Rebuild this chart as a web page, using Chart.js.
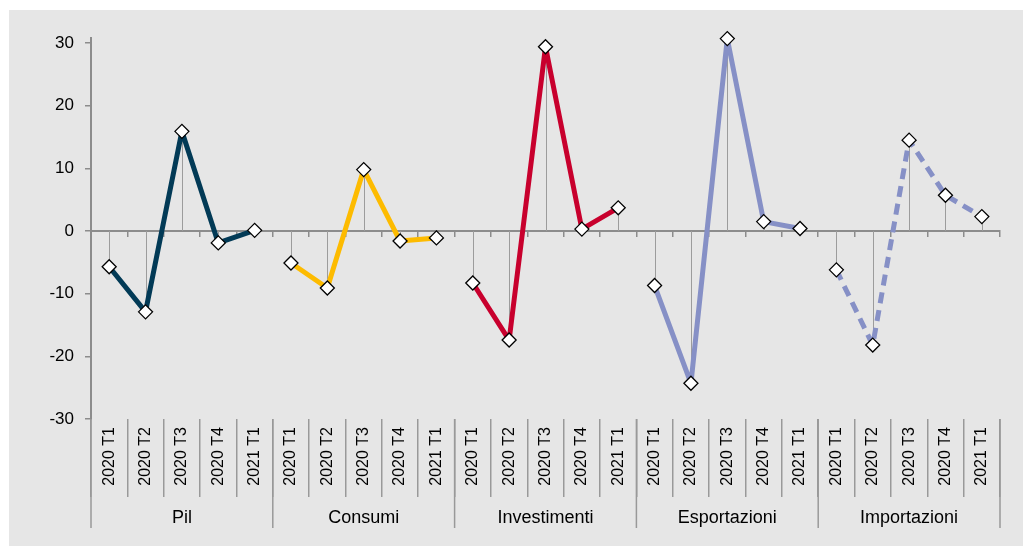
<!DOCTYPE html>
<html lang="it">
<head>
<meta charset="UTF-8">
<title>Variazioni trimestrali</title>
<style>
  body { margin: 0; background: #fff; width: 1023px; height: 546px; overflow: hidden; }
  .chart-box {
    position: absolute; left: 9px; top: 10px;
    width: 1014px; height: 536px; background: #e6e6e6;
  }
</style>
</head>
<body>
<div class="chart-box"><canvas id="chart" width="1014" height="536"></canvas></div>
<script src="https://cdn.jsdelivr.net/npm/chart.js"></script>
<script>
// quarters and groups
const quarters = ['2020 T1', '2020 T2', '2020 T3', '2020 T4', '2021 T1'];
const groups = ['Pil', 'Consumi', 'Investimenti', 'Esportazioni', 'Importazioni'];

// values per group
const pil = [-5.7, -12.9, 15.9, -1.9, 0.1];
const consumi = [-5.1, -9.1, 9.8, -1.6, -1.1];
const investimenti = [-8.3, -17.4, 29.4, 0.3, 3.7];
const esportazioni = [-8.7, -24.3, 30.7, 1.5, 0.4];
const importazioni = [-6.2, -18.2, 14.5, 5.7, 2.3];

const yTicks = [-30, -20, -10, 0, 10, 20, 30];

const labels = [];
groups.forEach(() => quarters.forEach(q => labels.push(q)));

// put a group's 5 values in its slot of the 25 categories
function place(values, g) {
  const out = labels.map(() => null);
  values.forEach((v, i) => { out[g * quarters.length + i] = v; });
  return out;
}

function series(values, g, color, dash) {
  return {
    label: groups[g],
    data: place(values, g),
    borderColor: color,
    borderWidth: 5,
    borderDash: dash || [],
    borderJoinStyle: 'round',
    tension: 0,
    spanGaps: false,
    clip: false,
    pointStyle: 'rectRot',
    pointRadius: 7,
    pointBackgroundColor: '#fff',
    pointBorderColor: '#000',
    pointBorderWidth: 1.3
  };
}

// thin lines from each point down/up to zero
const dropLines = {
  id: 'dropLines',
  beforeDatasetsDraw(chart) {
    const ctx = chart.ctx;
    const zero = chart.scales.y.getPixelForValue(0);
    ctx.save();
    ctx.strokeStyle = '#9c9c9c';
    ctx.lineWidth = 1;
    chart.data.datasets.forEach((ds, i) => {
      chart.getDatasetMeta(i).data.forEach((pt, j) => {
        if (ds.data[j] === null) return;
        const x = Math.round(pt.x) + 0.5;
        ctx.beginPath();
        ctx.moveTo(x, pt.y);
        ctx.lineTo(x, zero);
        ctx.stroke();
      });
    });
    ctx.restore();
  }
};

// group separators and names under the quarter labels
const groupLabels = {
  id: 'groupLabels',
  beforeDatasetsDraw(chart) {
    // y axis line runs a little above the top tick
    const ctx = chart.ctx;
    const area = chart.chartArea;
    ctx.save();
    ctx.strokeStyle = '#8c8c8c';
    ctx.lineWidth = 2;
    ctx.beginPath();
    ctx.moveTo(area.left, area.top - 6);
    ctx.lineTo(area.left, area.top);
    ctx.stroke();
    ctx.restore();
  },
  afterDraw(chart) {
    const ctx = chart.ctx;
    const x = chart.scales.x;
    const area = chart.chartArea;
    const step = x.getPixelForValue(1) - x.getPixelForValue(0);
    ctx.save();
    ctx.strokeStyle = '#999';
    ctx.lineWidth = 1.5;
    for (let g = 0; g <= groups.length; g++) {
      const px = x.getPixelForValue(g * quarters.length) - step / 2;
      ctx.beginPath();
      ctx.moveTo(px, area.bottom);
      ctx.lineTo(px, area.bottom + 109);
      ctx.stroke();
    }
    ctx.fillStyle = '#000';
    ctx.font = '18px Arial, "Liberation Sans", sans-serif';
    ctx.textAlign = 'center';
    ctx.textBaseline = 'middle';
    groups.forEach((name, g) => {
      const a = x.getPixelForValue(g * quarters.length);
      const b = x.getPixelForValue(g * quarters.length + quarters.length - 1);
      ctx.fillText(name, (a + b) / 2, area.bottom + 99);
    });
    ctx.restore();
  }
};

const ctx = document.getElementById('chart').getContext('2d');
new Chart(ctx, {
  type: 'line',
  data: {
    labels: labels,
    datasets: [
      series(pil, 0, '#023a56'),
      series(consumi, 1, '#fdbb00'),
      series(investimenti, 2, '#c8002d'),
      series(esportazioni, 3, '#8690c6'),
      series(importazioni, 4, '#8690c6', [11, 7])
    ]
  },
  options: {
    responsive: false,
    animation: false,
    events: [],
    layout: { padding: { top: 33, right: 23, left: 0, bottom: 0 } },
    plugins: { legend: { display: false }, tooltip: { enabled: false } },
    scales: {
      x: {
        type: 'category',
        offset: true,
        position: 'bottom',
        border: { display: false },
        grid: {
          offset: true,
          drawOnChartArea: false,
          drawTicks: true,
          tickLength: 78,
          color: '#999',
          lineWidth: 1.5
        },
        ticks: {
          autoSkip: false,
          minRotation: 90,
          maxRotation: 90,
          padding: -70,
          color: '#000',
          font: { family: 'Arial, "Liberation Sans", sans-serif', size: 16 }
        },
        afterFit(scale) { scale.height = 127; }
      },
      xZero: {
        type: 'category',
        offset: true,
        position: { y: 0 },
        border: { display: true, color: '#8c8c8c', width: 2 },
        grid: {
          offset: true,
          drawOnChartArea: false,
          tickLength: 5,
          color: '#8c8c8c',
          lineWidth: 1.5
        },
        ticks: { display: false }
      },
      y: {
        min: -30,
        max: 30,
        border: { display: true, color: '#8c8c8c', width: 2 },
        grid: { drawOnChartArea: false, tickLength: 6, color: '#8c8c8c', lineWidth: 1.5 },
        afterBuildTicks(scale) { scale.ticks = yTicks.map(v => ({ value: v })); },
        ticks: {
          padding: 11,
          color: '#000',
          font: { family: 'Arial, "Liberation Sans", sans-serif', size: 17 }
        },
        afterFit(scale) { scale.width = 82; }
      }
    }
  },
  plugins: [dropLines, groupLabels]
});
</script>
</body>
</html>
